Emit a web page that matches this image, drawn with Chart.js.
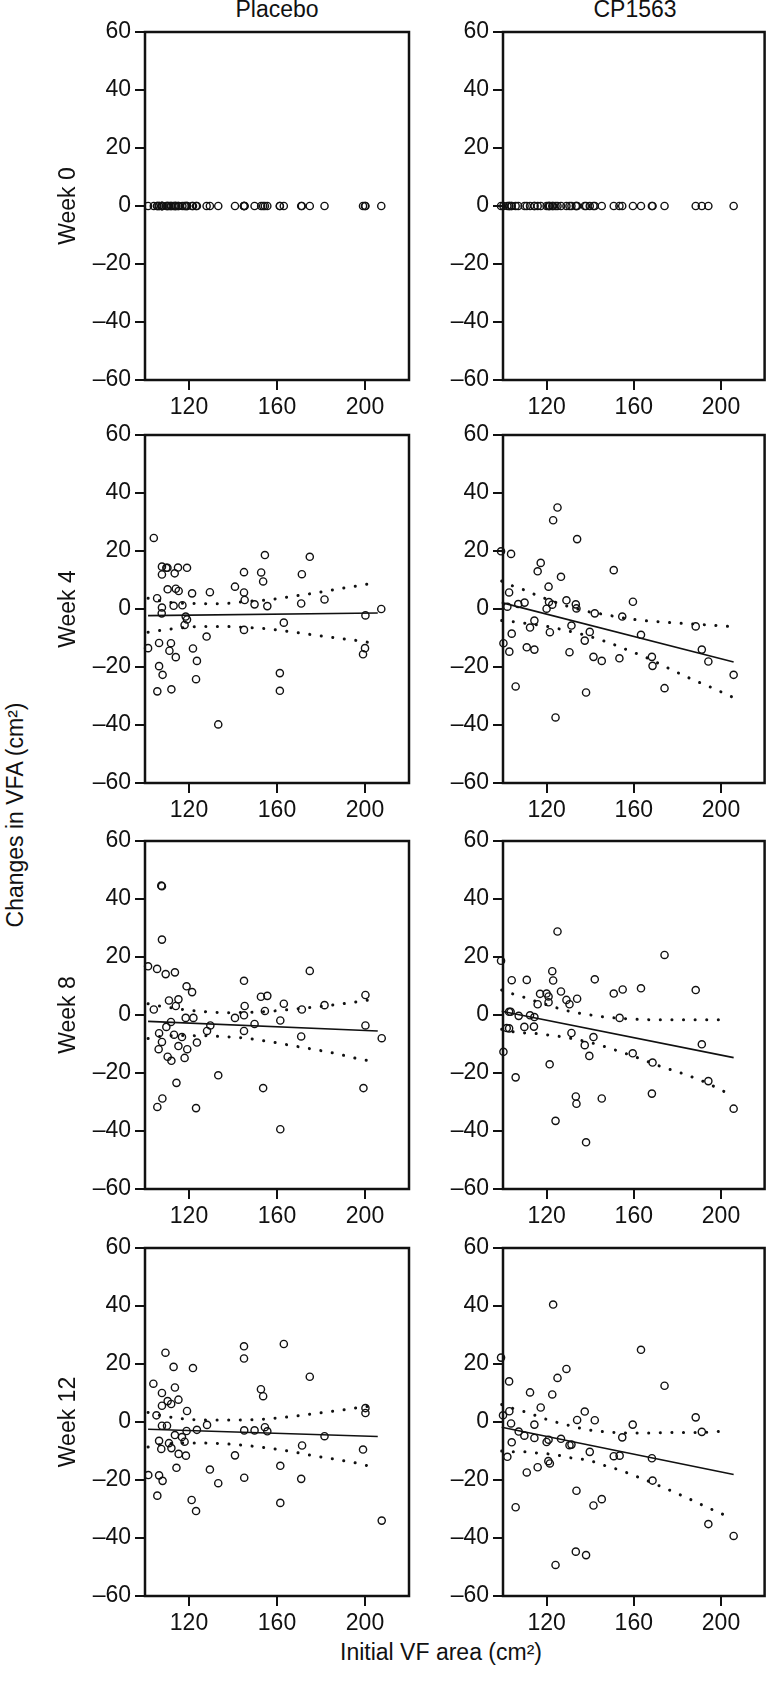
<!DOCTYPE html>
<html>
<head>
<meta charset="utf-8">
<script src="https://cdn.jsdelivr.net/npm/chart.js"></script>
<style>
html, body { margin: 0; padding: 0; background: #fff; }
body { width: 770px; height: 1683px; position: relative; overflow: hidden; font-family: 'Liberation Sans', Arial, Helvetica, sans-serif; color: #111; }
.panel { position: absolute; }
.texto { position: absolute; font-size: 23px; line-height: 23px; white-space: nowrap; }
.centrado { transform: translateX(-50%); }
.vertical { transform: translate(-50%, -50%) rotate(-90deg); }
</style>
</head>
<body>
<div class="texto centrado" style="left:277px;top:-2px">Placebo</div>
<div class="texto centrado" style="left:635px;top:-2px">CP1563</div>
<div class="texto vertical" style="left:15px;top:815px">Changes in VFA (cm²)</div>
<div class="texto centrado" style="left:441px;top:1641px">Initial VF area (cm²)</div>

<canvas id="placebo0" class="panel" width="420" height="414" style="left:0;top:12px"></canvas>
<canvas id="cp0" class="panel" width="340" height="414" style="left:430px;top:12px"></canvas>
<canvas id="placebo4" class="panel" width="420" height="414" style="left:0;top:415px"></canvas>
<canvas id="cp4" class="panel" width="340" height="414" style="left:430px;top:415px"></canvas>
<canvas id="placebo8" class="panel" width="420" height="414" style="left:0;top:821px"></canvas>
<canvas id="cp8" class="panel" width="340" height="414" style="left:430px;top:821px"></canvas>
<canvas id="placebo12" class="panel" width="420" height="414" style="left:0;top:1228px"></canvas>
<canvas id="cp12" class="panel" width="340" height="414" style="left:430px;top:1228px"></canvas>

<script>
// marcas de los ejes
const marcasX = [120, 160, 200];
const marcasY = [-60, -40, -20, 0, 20, 40, 60];

// Semana 0 (todos los cambios son 0)
const areaPlacebo0 = [101.4, 104.0, 105.5, 105.6, 106.4, 106.4, 107.6, 107.7, 107.7, 107.7, 108.0, 109.7, 110.2, 110.3, 111.1, 111.8, 112.0, 113.0, 113.5, 114.0, 114.0, 115.0, 115.3, 117.0, 118.0, 118.5, 119.1, 119.1, 121.4, 121.8, 123.2, 123.6, 128.0, 129.5, 133.3, 140.9, 145.0, 145.0, 145.0, 145.3, 149.8, 152.8, 153.7, 154.5, 155.6, 161.3, 161.3, 163.1, 171.0, 171.3, 174.9, 181.6, 199.1, 200.0, 200.2, 207.4];
const cambioPlacebo0 = [0, 0, 0, 0, 0, 0, 0, 0, 0, 0, 0, 0, 0, 0, 0, 0, 0, 0, 0, 0, 0, 0, 0, 0, 0, 0, 0, 0, 0, 0, 0, 0, 0, 0, 0, 0, 0, 0, 0, 0, 0, 0, 0, 0, 0, 0, 0, 0, 0, 0, 0, 0, 0, 0, 0, 0];
const areaCP0 = [99.1, 100.2, 102.0, 102.8, 102.9, 103.7, 104.0, 105.8, 107.0, 109.9, 110.9, 112.4, 114.4, 114.4, 115.9, 117.3, 120.0, 120.9, 121.1, 121.5, 122.6, 123.0, 124.1, 125.0, 126.6, 129.1, 130.5, 131.4, 133.4, 133.7, 134.0, 137.5, 138.1, 139.8, 141.5, 142.1, 145.3, 150.8, 153.4, 154.7, 159.6, 163.3, 168.3, 168.6, 174.1, 188.4, 191.2, 194.2, 205.8];
const cambioCP0 = [0, 0, 0, 0, 0, 0, 0, 0, 0, 0, 0, 0, 0, 0, 0, 0, 0, 0, 0, 0, 0, 0, 0, 0, 0, 0, 0, 0, 0, 0, 0, 0, 0, 0, 0, 0, 0, 0, 0, 0, 0, 0, 0, 0, 0, 0, 0, 0, 0];

// Semana 4
const areaPlacebo4 = [104.0, 107.7, 109.7, 110.2, 115.0, 119.1, 107.7, 113.5, 110.3, 114.0, 115.3, 121.4, 129.5, 105.5, 107.7, 107.6, 113.0, 117.0, 118.5, 119.1, 118.0, 101.4, 106.4, 111.8, 111.1, 114.0, 121.8, 128.0, 123.6, 106.4, 108.0, 105.6, 112.0, 123.2, 133.3, 140.9, 145.0, 145.0, 145.3, 145.0, 149.8, 152.8, 153.7, 154.5, 155.6, 163.1, 161.3, 161.3, 171.3, 174.9, 171.0, 181.6, 200.2, 200.0, 199.1, 207.4];
const cambioPlacebo4 = [24.5, 14.6, 14.2, 14.2, 14.3, 14.2, 11.9, 12.3, 6.8, 7.0, 6.2, 5.4, 5.8, 3.7, 0.5, -1.5, 1.1, 1.3, -2.6, -3.6, -5.5, -13.5, -11.7, -11.8, -14.4, -16.6, -13.6, -9.5, -17.9, -19.7, -22.7, -28.4, -27.7, -24.2, -39.8, 7.7, 12.7, 5.7, 3.1, -7.2, 1.6, 12.6, 9.5, 18.6, 1.0, -4.7, -22.1, -28.2, 12.0, 18.0, 1.9, 3.3, -2.2, -13.5, -15.6, 0.0];
const rectaPlacebo4X = [101.4, 205.8];
const rectaPlacebo4Y = [-2.3, -1.4];
const supPlacebo4X = [101.4, 112.0, 123.3, 133.9, 144.5, 155.1, 165.7, 176.3, 186.9, 197.5, 203.2];
const supPlacebo4Y = [3.7, 2.2, 1.9, 1.8, 2.5, 3.1, 4.2, 5.4, 6.8, 8.1, 8.8];
const infPlacebo4X = [101.4, 112.0, 123.3, 133.9, 144.5, 155.1, 165.7, 176.3, 186.9, 197.5, 203.2];
const infPlacebo4Y = [-8.0, -6.9, -6.1, -6.0, -6.3, -6.8, -7.8, -8.9, -10.0, -11.0, -11.7];

const areaCP4 = [99.1, 103.7, 125.0, 123.0, 134.0, 117.3, 115.9, 126.6, 150.8, 120.9, 102.8, 102.0, 107.0, 109.9, 120.0, 121.1, 122.6, 129.1, 133.4, 133.7, 142.1, 154.7, 159.6, 163.3, 114.4, 112.4, 104.0, 100.2, 102.9, 110.9, 114.4, 121.5, 131.4, 139.8, 137.5, 130.5, 141.5, 145.3, 153.4, 168.3, 168.6, 105.8, 138.1, 124.1, 174.1, 188.4, 191.2, 194.2, 205.8];
const cambioCP4 = [19.9, 19.0, 35.0, 30.6, 24.1, 15.9, 13.0, 11.1, 13.4, 7.7, 5.7, 0.8, 1.7, 2.2, 0.1, 2.4, 1.5, 3.0, 1.6, 0.2, -1.5, -2.6, 2.5, -8.9, -4.0, -6.4, -8.5, -11.8, -14.7, -13.2, -14.0, -8.0, -5.7, -7.9, -10.9, -14.9, -16.5, -17.9, -17.0, -16.5, -19.6, -26.7, -28.8, -37.4, -27.3, -6.0, -14.0, -18.1, -22.7];
const rectaCP4X = [99.4, 205.8];
const rectaCP4Y = [2.2, -18.3];
const supCP4X = [99.4, 104.0, 109.0, 114.0, 119.0, 129.0, 139.0, 145.0, 160.0, 177.0, 194.0, 205.0];
const supCP4Y = [9.6, 8.1, 6.8, 5.2, 3.7, 1.1, -0.9, -1.7, -3.6, -4.7, -5.5, -6.1];
const infCP4X = [99.4, 105.0, 110.0, 121.0, 126.0, 137.0, 147.0, 157.0, 166.5, 176.4, 186.3, 195.4, 205.3];
const infCP4Y = [-4.0, -4.4, -4.9, -6.1, -6.9, -8.9, -11.2, -14.1, -17.0, -20.6, -24.1, -27.0, -30.4];

// Semana 8
const areaPlacebo8 = [107.4, 107.7, 107.7, 101.4, 105.5, 109.4, 113.6, 118.9, 121.4, 104.0, 110.9, 115.2, 114.0, 118.5, 122.0, 111.8, 109.7, 106.4, 107.7, 106.2, 113.2, 116.8, 115.2, 119.2, 110.3, 112.0, 118.0, 123.6, 128.2, 129.7, 114.3, 107.9, 105.6, 123.2, 133.3, 140.9, 145.0, 145.3, 145.0, 145.0, 149.8, 152.7, 155.6, 154.5, 153.7, 161.5, 163.1, 161.5, 171.0, 171.3, 174.9, 181.6, 200.2, 200.2, 199.3, 207.6];
const cambioPlacebo8 = [44.6, 44.4, 26.0, 16.8, 15.9, 14.1, 14.7, 9.9, 7.9, 1.9, 5.0, 5.4, 3.1, -1.0, -1.0, -2.4, -4.1, -6.3, -9.3, -11.8, -6.8, -7.6, -10.7, -11.8, -14.4, -15.8, -14.8, -9.5, -5.5, -3.6, -23.4, -28.8, -31.7, -32.1, -20.8, -1.0, 11.8, 3.1, -0.1, -5.5, -3.1, 6.3, 6.6, 1.4, -25.2, -1.9, 3.9, -39.4, -7.4, 1.9, 15.2, 3.4, 6.9, -3.6, -25.2, -8.0];
const rectaPlacebo8X = [101.4, 205.8];
const rectaPlacebo8Y = [-2.2, -5.5];
const supPlacebo8X = [101.4, 106.7, 117.3, 127.9, 138.5, 149.8, 160.4, 171.0, 181.6, 192.2, 203.5];
const supPlacebo8Y = [3.9, 3.1, 1.9, 1.1, 0.8, 1.0, 1.5, 2.3, 3.1, 4.1, 5.4];
const infPlacebo8X = [101.4, 106.7, 117.0, 128.6, 133.9, 144.5, 155.1, 165.7, 176.3, 186.9, 197.5, 202.8];
const infPlacebo8Y = [-8.1, -7.4, -7.1, -7.2, -7.4, -7.9, -9.0, -10.4, -11.8, -13.3, -15.2, -15.9];

const areaCP8 = [99.1, 104.0, 110.9, 125.0, 122.6, 123.0, 142.1, 174.1, 188.4, 163.3, 154.9, 150.8, 117.0, 120.0, 120.9, 126.6, 115.9, 120.9, 129.1, 130.5, 134.0, 102.8, 103.5, 107.2, 112.4, 114.4, 153.5, 101.7, 102.8, 109.8, 114.2, 131.4, 141.5, 137.5, 139.6, 100.2, 159.5, 168.6, 191.2, 121.4, 105.8, 194.2, 133.4, 133.7, 145.3, 168.3, 124.1, 138.1, 205.8];
const cambioCP8 = [18.7, 12.0, 12.1, 28.8, 15.1, 11.9, 12.3, 20.7, 8.6, 9.2, 8.8, 7.4, 7.3, 7.4, 6.4, 8.1, 3.7, 4.4, 5.2, 3.7, 5.6, 1.1, 1.1, -0.3, -0.1, -0.7, -1.0, -4.5, -4.6, -4.1, -4.0, -6.2, -7.6, -10.4, -14.1, -12.7, -13.2, -16.4, -10.1, -17.0, -21.5, -22.8, -28.1, -30.6, -28.8, -27.1, -36.5, -43.9, -32.3];
const rectaCP8X = [99.4, 205.8];
const rectaCP8Y = [1.3, -14.7];
const supCP8X = [99.4, 104.0, 109.3, 114.7, 124.6, 129.9, 135.2, 145.9, 156.6, 167.7, 178.7, 189.3, 200.8];
const supCP8Y = [8.6, 7.4, 6.2, 4.8, 2.5, 1.4, 0.6, -0.6, -1.3, -1.6, -1.6, -1.6, -1.6];
const infCP8X = [99.4, 104.8, 110.1, 115.4, 120.8, 126.1, 131.4, 142.1, 152.8, 162.7, 172.6, 183.2, 193.1, 202.3];
const infCP8Y = [-4.9, -5.8, -6.2, -6.4, -6.9, -7.4, -8.1, -9.9, -12.4, -15.0, -17.8, -20.4, -23.3, -26.7];

// Semana 12
const areaPlacebo12 = [109.3, 113.0, 121.8, 103.8, 107.7, 113.6, 110.3, 111.9, 115.2, 107.7, 105.2, 119.1, 107.7, 110.0, 128.2, 113.6, 116.8, 118.0, 118.9, 123.6, 106.4, 110.9, 107.4, 112.0, 115.3, 118.6, 114.3, 101.5, 106.4, 108.0, 105.6, 121.2, 123.2, 129.5, 133.3, 140.9, 145.0, 145.0, 145.1, 149.8, 145.1, 152.7, 153.7, 154.5, 155.6, 161.5, 161.5, 163.1, 171.0, 171.4, 174.9, 181.6, 200.2, 200.2, 199.1, 207.6];
const cambioPlacebo12 = [23.9, 19.0, 18.6, 13.2, 10.0, 11.9, 7.2, 6.2, 7.7, 5.6, 2.3, 3.8, -1.3, -1.3, -1.0, -4.5, -5.2, -6.8, -3.1, -2.7, -6.5, -7.3, -9.3, -9.0, -11.0, -11.6, -15.8, -18.3, -18.4, -20.3, -25.4, -26.9, -30.7, -16.4, -21.1, -11.5, 26.1, 21.9, -2.9, -2.9, -19.2, 11.3, 8.9, -1.8, -3.2, -15.1, -27.9, 26.9, -19.6, -8.1, 15.6, -4.9, 4.8, 3.1, -9.5, -34.0];
const rectaPlacebo12X = [101.4, 205.8];
const rectaPlacebo12Y = [-2.5, -5.0];
const supPlacebo12X = [101.4, 106.7, 117.3, 127.9, 139.2, 149.8, 160.4, 171.0, 182.3, 192.9, 203.9];
const supPlacebo12Y = [3.3, 2.3, 1.1, 0.7, 0.7, 0.8, 1.4, 2.3, 3.4, 4.5, 5.7];
const infPlacebo12X = [101.4, 106.7, 112.0, 122.6, 133.2, 144.5, 155.1, 165.7, 176.3, 186.9, 197.5, 203.2];
const infPlacebo12Y = [-8.6, -7.8, -7.4, -7.2, -7.4, -8.0, -8.9, -10.1, -11.6, -12.9, -14.4, -15.5];

const areaCP12 = [123.0, 163.3, 99.1, 129.1, 125.0, 102.8, 174.1, 112.4, 122.6, 117.3, 102.9, 100.0, 137.5, 188.4, 134.0, 142.1, 103.7, 114.4, 159.5, 107.2, 109.8, 114.4, 120.9, 120.0, 126.6, 130.5, 131.4, 104.0, 154.7, 191.2, 102.0, 139.8, 150.8, 153.5, 168.3, 120.8, 121.5, 115.9, 110.9, 168.6, 133.7, 145.3, 141.5, 105.8, 194.2, 205.8, 133.4, 138.1, 124.1];
const cambioCP12 = [40.5, 24.9, 22.2, 18.3, 15.2, 14.0, 12.5, 10.2, 9.5, 5.0, 3.7, 2.3, 3.6, 1.6, 0.7, 0.6, -0.5, -0.9, -0.9, -3.3, -4.7, -5.5, -6.1, -6.9, -5.8, -8.0, -7.8, -7.0, -5.3, -3.4, -12.0, -10.3, -11.8, -11.6, -12.5, -13.5, -14.3, -15.6, -17.4, -20.2, -23.7, -26.6, -28.8, -29.4, -35.2, -39.3, -44.7, -45.9, -49.3];
const rectaCP12X = [99.4, 205.8];
const rectaCP12Y = [-1.8, -18.1];
const supCP12X = [99.4, 104.0, 109.3, 114.7, 119.2, 124.6, 129.9, 135.2, 140.6, 145.9, 156.6, 167.2, 178.7, 189.3, 200.8];
const supCP12Y = [6.0, 4.8, 3.7, 2.3, 1.1, -0.1, -1.1, -2.1, -2.9, -3.3, -3.8, -3.8, -3.6, -3.6, -3.2];
const infCP12X = [99.4, 104.3, 110.1, 115.9, 120.8, 126.1, 131.4, 137.1, 142.4, 147.4, 152.8, 162.7, 172.6, 182.5, 192.4, 201.6];
const infCP12Y = [-10.0, -10.3, -10.3, -10.7, -11.0, -11.6, -12.4, -12.9, -13.9, -15.2, -16.4, -19.2, -22.3, -25.5, -29.0, -32.1];

Chart.defaults.font.family = "'Liberation Sans', Arial, Helvetica, sans-serif";
Chart.defaults.font.size = 23;
Chart.defaults.color = '#111';

// caja negra alrededor del area del grafico
const marco = {
    id: 'marco',
    afterDatasetsDraw(chart) {
        const a = chart.chartArea;
        const ctx = chart.ctx;
        ctx.save();
        ctx.lineWidth = 2.5;
        ctx.strokeStyle = '#111';
        ctx.strokeRect(a.left, a.top, a.right - a.left, a.bottom - a.top);
        ctx.restore();
    }
};

function pares(xs, ys) {
    return xs.map((x, i) => ({ x: x, y: ys[i] }));
}

function crearPanel(idCanvas, columna, semana, puntos, recta, sup, inf) {
    const conjuntos = [{
        data: puntos,
        showLine: false,
        pointStyle: 'circle',
        pointRadius: 3.6,
        pointBorderWidth: 1.4,
        pointBorderColor: '#111',
        pointBackgroundColor: 'rgba(0,0,0,0)',
        borderColor: '#111',
        backgroundColor: 'rgba(0,0,0,0)',
        clip: false
    }];
    if (recta) {
        conjuntos.push({
            data: recta,
            showLine: true,
            pointRadius: 0,
            borderWidth: 1.6,
            borderColor: '#111',
            clip: false
        });
    }
    if (sup) {
        [sup, inf].forEach(function (banda) {
            conjuntos.push({
                data: banda,
                showLine: true,
                pointRadius: 0,
                borderWidth: 3,
                borderColor: '#111',
                borderDash: [0.1, 11.5],
                borderCapStyle: 'round',
                cubicInterpolationMode: 'monotone',
                clip: false
            });
        });
    }

    const rejilla = { drawOnChartArea: false, drawTicks: true, tickLength: 10, lineWidth: 2, color: '#111' };

    new Chart(document.getElementById(idCanvas), {
        type: 'scatter',
        data: { datasets: conjuntos },
        options: {
            responsive: false,
            animation: false,
            events: [],
            layout: { padding: { top: 20, right: columna === 0 ? 11 : 3, left: 0, bottom: 0 } },
            plugins: { legend: { display: false }, tooltip: { enabled: false } },
            scales: {
                x: {
                    type: 'linear',
                    min: 100,
                    max: 220,
                    afterBuildTicks: function (eje) { eje.ticks = marcasX.map(v => ({ value: v })); },
                    afterFit: function (eje) { eje.height = 46; },
                    grid: rejilla,
                    border: { display: false },
                    ticks: { padding: 4, maxRotation: 0, color: '#111' }
                },
                y: {
                    type: 'linear',
                    min: -60,
                    max: 60,
                    afterBuildTicks: function (eje) { eje.ticks = marcasY.map(v => ({ value: v })); },
                    afterFit: function (eje) { eje.width = columna === 0 ? 145 : 73; },
                    grid: rejilla,
                    border: { display: false },
                    ticks: {
                        padding: 4,
                        color: '#111',
                        callback: function (v) { return v < 0 ? '\u2013' + Math.abs(v) : String(v); }
                    },
                    title: {
                        display: columna === 0,
                        text: semana,
                        color: '#111',
                        padding: { top: 55, bottom: 0 }
                    }
                }
            }
        },
        plugins: [marco]
    });
}

crearPanel('placebo0', 0, 'Week 0', pares(areaPlacebo0, cambioPlacebo0));
crearPanel('cp0', 1, '', pares(areaCP0, cambioCP0));

crearPanel('placebo4', 0, 'Week 4', pares(areaPlacebo4, cambioPlacebo4),
    pares(rectaPlacebo4X, rectaPlacebo4Y), pares(supPlacebo4X, supPlacebo4Y), pares(infPlacebo4X, infPlacebo4Y));
crearPanel('cp4', 1, '', pares(areaCP4, cambioCP4),
    pares(rectaCP4X, rectaCP4Y), pares(supCP4X, supCP4Y), pares(infCP4X, infCP4Y));

crearPanel('placebo8', 0, 'Week 8', pares(areaPlacebo8, cambioPlacebo8),
    pares(rectaPlacebo8X, rectaPlacebo8Y), pares(supPlacebo8X, supPlacebo8Y), pares(infPlacebo8X, infPlacebo8Y));
crearPanel('cp8', 1, '', pares(areaCP8, cambioCP8),
    pares(rectaCP8X, rectaCP8Y), pares(supCP8X, supCP8Y), pares(infCP8X, infCP8Y));

crearPanel('placebo12', 0, 'Week 12', pares(areaPlacebo12, cambioPlacebo12),
    pares(rectaPlacebo12X, rectaPlacebo12Y), pares(supPlacebo12X, supPlacebo12Y), pares(infPlacebo12X, infPlacebo12Y));
crearPanel('cp12', 1, '', pares(areaCP12, cambioCP12),
    pares(rectaCP12X, rectaCP12Y), pares(supCP12X, supCP12Y), pares(infCP12X, infCP12Y));
</script>
</body>
</html>
